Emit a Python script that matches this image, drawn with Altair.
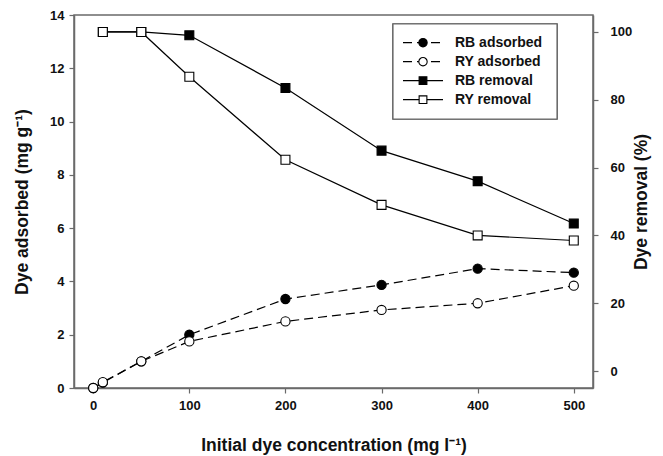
import altair as alt
import pandas as pd

# Adsorbed amount (left axis, mg/g) and removal (right axis, %) vs initial concentration
conc_ads = [0, 10, 50, 100, 200, 300, 400, 500]
rb_adsorbed = [0.0, 0.2, 1.0, 2.0, 3.34, 3.87, 4.48, 4.33]
ry_adsorbed = [0.0, 0.22, 1.0, 1.75, 2.5, 2.93, 3.18, 3.84]

conc_rem = [10, 50, 100, 200, 300, 400, 500]
rb_removal = [100, 100, 99.0, 83.5, 65.0, 56.0, 43.5]
ry_removal = [100, 100, 86.8, 62.3, 49.0, 40.0, 38.5]

series_names = ["RB adsorbed", "RY adsorbed", "RB removal", "RY removal"]
x_ticks = [0, 100, 200, 300, 400, 500]
left_ticks = [0, 2, 4, 6, 8, 10, 12, 14]
right_ticks = [0, 20, 40, 60, 80, 100]

ads = pd.DataFrame(
    [{"conc": c, "value": v, "series": "RB adsorbed"} for c, v in zip(conc_ads, rb_adsorbed)]
    + [{"conc": c, "value": v, "series": "RY adsorbed"} for c, v in zip(conc_ads, ry_adsorbed)]
)
rem = pd.DataFrame(
    [{"conc": c, "value": v, "series": "RB removal"} for c, v in zip(conc_rem, rb_removal)]
    + [{"conc": c, "value": v, "series": "RY removal"} for c, v in zip(conc_rem, ry_removal)]
)
leg = pd.DataFrame({"series": series_names})

W, H = 519, 373
FONT = "Liberation Sans"
FRAME = "#6a6a6a"
TITLE_SIZE = 17.5

fill_scale = alt.Scale(domain=series_names, range=["black", "white", "black", "white"])
dash_scale = alt.Scale(domain=series_names, range=[[9, 5], [9, 5], [1, 0], [1, 0]])

x_enc = alt.X(
    "conc:Q",
    scale=alt.Scale(domain=[-20, 520], nice=False, zero=False),
    axis=alt.Axis(
        values=x_ticks, title="Initial dye concentration (mg l\u207b\u00b9)",
        titleFontSize=TITLE_SIZE, titleY=57, titleBaseline="middle",
        labelPadding=6,
    ),
)

y_left = alt.Y(
    "value:Q",
    scale=alt.Scale(domain=[0, 14], nice=False),
    axis=alt.Axis(
        values=left_ticks, title="Dye adsorbed (mg g\u207b\u00b9)", orient="left",
        titleFontSize=TITLE_SIZE, titleX=-52, titleY=H / 2,
        titleAngle=270, titleBaseline="middle", titleAlign="center",
        labelPadding=5,
    ),
)

y_right = alt.Y(
    "value:Q",
    scale=alt.Scale(domain=[-5, 105], nice=False, zero=False),
    axis=alt.Axis(
        values=right_ticks, title="Dye removal  (%)", orient="right",
        titleFontSize=TITLE_SIZE, titleX=48, titleY=H / 2,
        titleAngle=270, titleBaseline="middle", titleAlign="center",
        labelPadding=12,
    ),
)

ads_lines = alt.Chart(ads).mark_line(color="black", strokeWidth=1.2).encode(
    x=x_enc, y=y_left, detail="series:N",
    strokeDash=alt.StrokeDash("series:N", scale=dash_scale, legend=None),
)
ads_pts = alt.Chart(ads).mark_point(
    shape="circle", size=85, stroke="black", strokeWidth=1.1, opacity=1, filled=True
).encode(
    x=x_enc, y=y_left,
    fill=alt.Fill("series:N", scale=fill_scale, legend=None),
)
left_layer = alt.layer(ads_lines, ads_pts)

rem_lines = alt.Chart(rem).mark_line(color="black", strokeWidth=1.2).encode(
    x=x_enc, y=y_right, detail="series:N",
)
rem_pts = alt.Chart(rem).mark_point(
    shape="square", size=80, stroke="black", strokeWidth=1.1, opacity=1, filled=True
).encode(
    x=x_enc, y=y_right,
    fill=alt.Fill("series:N", scale=fill_scale, legend=None),
)
right_layer = alt.layer(rem_lines, rem_pts)

# Legend box drawn inside the plot area
leg_y = alt.Y(
    "series:N",
    scale=alt.Scale(type="point", domain=series_names, range=[27.7, 84.7], padding=0),
    axis=None,
)
leg_box = alt.Chart(leg).mark_rect(fill="white", stroke=FRAME, strokeWidth=1.2).encode(
    x=alt.value(319), x2=alt.value(483), y=alt.value(9), y2=alt.value(104),
)
leg_line = alt.Chart(leg).mark_rule(color="black", strokeWidth=1.2).encode(
    x=alt.value(329), x2=alt.value(369), y=leg_y,
    strokeDash=alt.StrokeDash("series:N", scale=dash_scale, legend=None),
)
leg_circ = alt.Chart(leg).transform_filter(
    alt.FieldOneOfPredicate(field="series", oneOf=series_names[:2])
).mark_point(shape="circle", size=70, stroke="black", strokeWidth=1.1, opacity=1, filled=True).encode(
    x=alt.value(349), y=leg_y, fill=alt.Fill("series:N", scale=fill_scale, legend=None),
)
leg_sq = alt.Chart(leg).transform_filter(
    alt.FieldOneOfPredicate(field="series", oneOf=series_names[2:])
).mark_point(shape="square", size=60, stroke="black", strokeWidth=1.1, opacity=1, filled=True).encode(
    x=alt.value(349), y=leg_y, fill=alt.Fill("series:N", scale=fill_scale, legend=None),
)
leg_text = alt.Chart(leg).mark_text(
    align="left", baseline="middle", font=FONT, fontSize=14, fontWeight="bold", color="#111"
).encode(x=alt.value(381), y=leg_y, text="series:N")
legend_layer = alt.layer(leg_box, leg_line, leg_circ, leg_sq, leg_text)

chart = (
    alt.layer(left_layer, right_layer, legend_layer)
    .resolve_scale(y="independent")
    .properties(
        width=W, height=H,
        autosize=alt.AutoSizeParams(type="none"),
        padding={"left": 74, "top": 15, "right": 70, "bottom": 68},
        background="white",
    )
    .configure_view(stroke=FRAME, strokeWidth=1.5)
    .configure_axis(
        labelFont=FONT, titleFont=FONT, labelFontSize=13, labelFontWeight="bold",
        titleFontWeight="bold",
        labelColor="#111", titleColor="#111", domainColor=FRAME, domainWidth=1.5,
        tickColor=FRAME, tickWidth=1.2, tickSize=5, grid=False,
    )
)

chart.save("out.html", embed_options={"renderer": "svg", "actions": False})
